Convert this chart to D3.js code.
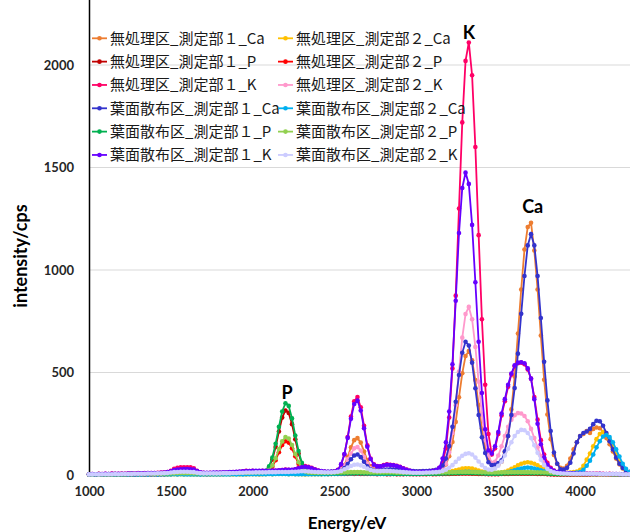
<!DOCTYPE html>
<html><head><meta charset="utf-8">
<script src="https://cdn.jsdelivr.net/npm/d3@7"></script>
<style>html,body{margin:0;padding:0;background:#fff;overflow:hidden}</style>
</head><body>
<svg id="chart" width="630" height="532"></svg>
<script>
// channel energies (eV), 20 eV steps
const energy = d3.range(1000, 4301, 20);

const untreated1_Ca = [2,3,2,4,3,2,3,4,3,2, 3,4,3,2,4,3,5,4,3,4, 4,3,5,4,6,5,7,8,10,9, 10,9,8,7,6,5,6,5,6,7, 6,7,8,7,8,9,8,9,10,9, 10,9,11,10,12,11,13,12,14,15, 16,14,13,12,11,10,11,12,11,12, 13,12,14,13,15,12,17,25,48,88, 135,170,180,158,115,72,42,28,24,22, 24,22,23,21,20,19,18,17,16,16, 16,17,18,18,19,20,22,26,30,51, 92,161,259,379,496,580,605,560,463,342, 227,137,78,55,45,50,65,110,190,320, 480,690,905,1100,1210,1230,1095,905,680,465, 295,175,98,55,35,32,45,80,125,160, 190,200,215,205,225,232,228,210,180,150, 115,80,52,32,20,14];
const untreated2_Ca = [2,2,3,2,2,3,2,2,3,2, 2,3,2,2,3,2,3,2,2,3, 3,2,3,3,2,3,4,3,4,3, 4,3,3,3,2,3,3,2,3,3, 3,3,4,3,3,4,3,4,3,4, 4,4,3,4,4,5,4,5,5,5, 5,4,5,4,4,4,3,4,4,4, 4,4,5,4,5,5,6,7,8,9, 10,11,12,11,10,9,8,7,6,6, 6,5,6,5,5,5,6,5,6,6, 6,6,7,7,8,8,9,10,11,13, 16,19,23,27,31,33,33,31,27,22, 17,13,10,9,9,10,12,16,22,30, 38,47,55,60,62,60,55,47,38,29, 21,15,11,9,8,9,11,12,14,17, 25,45,75,105,140,175,200,210,200,175, 140,100,65,40,22,12];
const untreated1_P = [3,4,3,5,4,3,4,5,4,3, 4,5,4,3,5,4,6,5,4,5, 5,4,6,5,7,6,8,9,10,9, 10,9,8,7,7,6,6,7,6,7, 7,8,8,9,9,10,10,11,12,12, 13,14,15,14,18,38,76,137,212,280, 315,303,248,174,105,55,25,12,9,8, 8,7,8,7,7,8,7,6,7,7, 8,7,8,7,6,7,6,6,7,6, 6,5,6,6,5,6,5,5,6,5, 5,5,6,5,5,5,6,5,5,6, 6,7,8,8,9,9,9,8,7,6, 6,5,5,5,5,5,6,6,7,7, 7,8,8,8,8,8,7,7,6,6, 5,4,4,4,3,3,3,3,3,3, 3,3,3,4,4,4,4,4,4,3, 3,3,3,3,2,2];
const untreated2_P = [2,3,2,3,3,2,3,2,3,3, 3,3,2,3,3,4,3,3,4,3, 4,3,4,4,5,5,6,7,6,7, 7,6,6,5,5,5,4,5,5,5, 5,6,6,6,7,7,7,8,8,8, 9,9,10,9,10,20,40,72,111,146, 165,158,130,91,55,29,14,9,7,6, 6,5,6,5,5,6,5,5,5,5, 6,5,6,5,5,5,5,5,4,5, 5,4,4,5,4,4,4,5,4,4, 4,4,4,4,5,4,4,5,5,5, 5,6,6,7,7,7,7,6,6,5, 5,5,4,4,4,4,5,5,5,6, 6,6,6,6,6,6,6,5,5,5, 4,4,3,3,3,3,3,3,3,3, 3,3,3,3,3,3,3,3,3,3, 3,2,2,2,2,2];
const untreated1_K = [4,5,4,6,5,6,5,7,6,6, 7,6,8,7,8,9,8,9,10,9, 10,11,12,13,14,20,30,35,37,38, 38,37,33,20,13,11,10,11,10,11, 11,12,12,13,14,15,16,18,20,19, 20,18,19,20,18,19,20,21,22,24, 26,25,24,28,36,42,44,40,35,28, 22,18,16,15,15,18,25,50,100,185, 285,360,380,330,240,145,80,52,44,43, 48,52,50,48,45,40,33,26,20,17, 15,16,16,17,18,20,24,35,60,130, 280,520,875,1300,1720,2020,2110,1950,1600,1170, 760,440,200,100,130,200,290,360,430,490, 530,545,548,540,515,470,380,270,170,100, 60,35,22,15,12,10,9,8,8,7, 7,6,7,6,6,7,6,6,5,6, 5,5,5,4,5,4];
const untreated2_K = [3,4,3,4,4,5,4,5,5,4, 5,5,6,5,6,6,7,6,7,7, 8,8,9,10,12,15,18,20,21,22, 22,21,19,14,10,8,8,8,8,9, 9,9,10,10,11,11,12,12,13,13, 13,14,13,14,14,15,15,15,16,17, 17,17,18,19,21,23,24,23,21,19, 16,15,14,14,14,15,20,27,46,76, 104,130,136,119,88,56,33,24,22,22, 23,25,24,23,21,19,16,14,12,11, 11,11,12,12,13,14,16,20,30,55, 110,205,340,505,670,785,820,760,625,455, 295,170,95,60,65,95,140,190,235,270, 292,302,300,288,262,225,180,135,92,60, 36,22,14,10,8,7,6,6,6,5, 5,5,5,5,4,5,4,4,4,4, 4,4,3,4,3,3];
const foliar1_Ca = [3,2,3,3,4,3,3,4,3,4, 4,3,4,4,3,4,5,4,4,5, 5,4,5,5,6,6,7,8,9,9, 9,8,8,7,7,6,6,6,7,6, 7,7,8,8,8,9,9,10,10,10, 11,11,12,12,12,13,13,14,14,15, 15,15,14,14,14,13,13,14,14,15, 15,15,16,16,17,17,19,21,34,54, 77,95,100,87,65,43,28,22,22,23, 25,27,28,27,26,25,23,22,20,19, 18,18,19,19,20,22,25,30,46,80, 141,235,357,488,596,650,632,548,423,293, 184,107,62,48,50,58,72,116,190,293, 424,592,786,971,1120,1175,1120,971,766,552, 364,215,110,55,28,26,35,60,105,160, 190,205,212,225,248,265,262,240,205,165, 125,85,55,35,22,15];
const foliar2_Ca = [2,2,2,3,2,2,3,2,2,2, 2,3,2,2,3,2,2,3,2,3, 3,2,3,3,3,3,4,3,4,3, 3,3,3,3,2,3,3,3,3,3, 3,3,3,3,4,3,4,3,4,4, 4,4,4,4,4,5,4,5,5,5, 5,4,5,4,4,4,4,4,4,4, 4,4,4,4,5,5,5,6,6,7, 7,8,8,8,7,7,6,6,5,5, 5,5,5,5,5,5,5,5,5,5, 5,5,6,6,6,6,7,7,8,9, 10,11,13,14,15,16,16,15,14,12, 10,8,7,7,7,8,9,11,14,18, 23,28,32,35,36,35,32,28,23,18, 13,10,8,7,7,7,8,9,10,12, 15,25,45,70,100,135,165,188,195,185, 160,125,90,55,30,15];
const foliar1_P = [3,4,3,5,4,4,5,4,5,4, 5,4,5,6,5,5,6,5,6,6, 6,6,7,7,8,9,10,11,11,12, 11,11,10,9,9,8,8,8,9,9, 9,10,10,11,11,12,12,13,14,14, 15,15,16,17,20,42,85,152,235,310, 350,337,276,193,117,60,28,14,10,9, 9,8,8,8,8,8,8,9,9,9, 9,9,9,9,8,8,8,8,7,7, 7,7,7,6,6,6,6,6,6,6, 6,6,6,6,6,6,6,6,7,7, 7,8,9,9,10,10,10,9,9,8, 7,7,6,6,6,6,6,7,7,8, 8,8,9,9,9,8,8,8,7,7, 6,5,5,4,4,4,4,4,4,4, 4,4,4,4,4,4,4,4,4,4, 3,3,3,3,3,3];
const foliar2_P = [3,3,4,3,4,4,3,4,4,4, 4,4,5,4,5,5,5,5,6,5, 6,6,6,7,7,8,8,9,9,9, 9,9,8,8,8,8,8,8,8,8, 8,9,9,9,10,10,10,11,11,11, 12,12,12,13,14,24,46,82,127,164, 185,178,146,102,62,33,17,12,11,11, 11,11,11,11,11,12,12,12,13,13, 14,14,14,14,13,13,12,12,12,12, 12,12,12,12,11,11,11,11,11,11, 11,11,11,11,12,12,12,12,12,13, 13,14,14,15,15,15,15,15,14,14, 13,13,12,12,12,12,13,13,13,14, 14,14,14,14,14,14,13,13,13,12, 12,11,10,9,8,7,6,6,5,5, 5,5,5,5,4,4,4,4,4,4, 4,4,3,3,3,3];
const foliar1_K = [4,5,4,5,5,6,5,6,6,6, 6,6,7,7,7,8,8,8,9,9, 10,10,11,12,14,18,24,27,28,29, 29,28,26,19,13,11,11,11,12,12, 12,13,13,14,15,16,17,18,19,19, 20,20,21,21,20,21,22,22,23,24, 25,25,25,28,33,38,40,37,33,27, 22,19,17,16,16,17,24,53,102,181, 274,346,363,315,228,138,78,50,42,42, 46,50,49,47,44,39,32,25,20,17, 15,15,16,16,17,19,23,35,80,160, 310,540,850,1180,1400,1475,1420,1220,940,650, 400,223,120,105,140,210,300,370,440,495, 535,548,550,545,520,470,370,250,150,85, 50,30,20,14,11,10,9,8,8,7, 7,6,6,6,6,5,6,5,5,5, 5,5,4,4,4,4];
const foliar2_K = [3,3,4,3,4,4,4,4,5,4, 5,5,5,5,6,6,6,6,7,7, 7,8,8,9,10,12,14,15,16,16, 16,15,14,11,9,8,8,8,8,8, 8,9,9,9,10,10,11,11,12,12, 12,13,13,13,13,14,14,14,15,15, 15,15,16,16,17,18,18,17,16,15, 14,14,13,13,13,14,16,20,28,36, 44,50,51,47,40,32,25,21,19,19, 20,20,19,18,17,16,14,13,12,11, 11,11,11,12,12,13,14,16,20,26, 35,48,64,80,94,103,106,100,85,66, 48,34,27,26,32,45,65,95,128,160, 190,210,220,218,205,180,145,108,75,48, 30,19,13,10,8,7,7,6,6,6, 6,6,6,6,6,6,5,5,5,5, 5,5,5,4,4,4];

const seriesNames = [
  "無処理区_測定部１_Ca", "無処理区_測定部２_Ca",
  "無処理区_測定部１_P",  "無処理区_測定部２_P",
  "無処理区_測定部１_K",  "無処理区_測定部２_K",
  "葉面散布区_測定部１_Ca", "葉面散布区_測定部２_Ca",
  "葉面散布区_測定部１_P",  "葉面散布区_測定部２_P",
  "葉面散布区_測定部１_K",  "葉面散布区_測定部２_K"
];
const seriesValues = [untreated1_Ca, untreated2_Ca, untreated1_P, untreated2_P, untreated1_K, untreated2_K,
  foliar1_Ca, foliar2_Ca, foliar1_P, foliar2_P, foliar1_K, foliar2_K];
const seriesColors = ["#ED7D31","#FFC000","#C00000","#FF0000","#FF0066","#FF99CC",
  "#3333CC","#00B0F0","#00B050","#92D050","#6600FF","#CCCCFF"];

const xTicks = [1000,1500,2000,2500,3000,3500,4000];
const yTicks = [0,500,1000,1500,2000];
const peakLabels = ["P","K","Ca"];
const peakLabelEnergy = [2210, 3320, 3710];
const peakLabelValue = [400, 2160, 1310];

const svg = d3.select("#chart");
const x = d3.scaleLinear().domain([1000,4500]).range([89,662]);
const y = d3.scaleLinear().domain([0,2500]).range([475,-37.5]);

// gridlines
svg.append("g").selectAll("line").data(yTicks.filter(d=>d>0)).join("line")
  .attr("x1",89).attr("x2",662).attr("y1",d=>y(d)).attr("y2",d=>y(d))
  .attr("stroke","#d9d9d9").attr("stroke-width",1);

// x axis
const gx = svg.append("g").attr("transform","translate(0,475)")
  .call(d3.axisBottom(x).tickValues(xTicks).tickSize(0).tickPadding(12).tickFormat(d3.format("d")));
gx.select(".domain").attr("stroke","#bfbfbf");
gx.selectAll("text").attr("font-family","Lato, 'Open Sans', sans-serif").attr("font-weight","bold")
  .attr("font-size",13).attr("fill","#262626");

// y axis
const gy = svg.append("g").attr("transform","translate(89,0)")
  .call(d3.axisLeft(y).tickValues(yTicks).tickSize(0).tickPadding(15).tickFormat(d3.format("d")));
gy.select(".domain").attr("stroke","#000").attr("stroke-width",1.5);
gy.selectAll("text").attr("font-family","Lato, 'Open Sans', sans-serif").attr("font-weight","bold")
  .attr("font-size",13).attr("fill","#262626");

// series
const line = d3.line().x((d,i)=>x(energy[i])).y(d=>y(d));
seriesValues.forEach((vals,k)=>{
  const g = svg.append("g");
  g.append("path").datum(vals).attr("d",line).attr("fill","none")
    .attr("stroke",seriesColors[k]).attr("stroke-width",1.8);
  g.selectAll("circle").data(vals).join("circle")
    .attr("cx",(d,i)=>x(energy[i])).attr("cy",d=>y(d)).attr("r",2.3)
    .attr("fill",seriesColors[k]);
});

// peak labels
svg.append("g").selectAll("text").data(peakLabels).join("text")
  .attr("x",(d,i)=>x(peakLabelEnergy[i])).attr("y",(d,i)=>y(peakLabelValue[i]))
  .attr("dy","0.35em").attr("text-anchor","middle")
  .attr("font-family","Lato, 'Open Sans', sans-serif").attr("font-weight","bold")
  .attr("font-size",18).attr("fill","#000").text(d=>d);

// axis titles
svg.append("text").attr("transform","translate(21,256) rotate(-90)")
  .attr("text-anchor","middle").attr("dy","0.35em")
  .attr("font-family","Lato, 'Open Sans', sans-serif").attr("font-weight","bold")
  .attr("font-size",18).attr("fill","#000").text("intensity/cps");
svg.append("text").attr("x",347).attr("y",523).attr("dy","0.35em")
  .attr("text-anchor","middle")
  .attr("font-family","Lato, 'Open Sans', sans-serif").attr("font-weight","bold")
  .attr("font-size",17).attr("fill","#000").text("Energy/eV");

// legend
const leg = svg.append("g");
seriesNames.forEach((name,k)=>{
  const col = k%2, row = Math.floor(k/2);
  const lx = col===0 ? 92 : 278;
  const ly = 38.3 + row*23.33;
  leg.append("line").attr("x1",lx).attr("x2",lx+15).attr("y1",ly).attr("y2",ly)
    .attr("stroke",seriesColors[k]).attr("stroke-width",1.8);
  leg.append("circle").attr("cx",lx+7.5).attr("cy",ly).attr("r",2.3).attr("fill",seriesColors[k]);
  leg.append("text").attr("x",lx+18).attr("y",ly).attr("dy","0.35em")
    .attr("font-family","'Noto Sans CJK JP', sans-serif").attr("font-size",15)
    .attr("fill","#1a1a1a").text(name);
});
</script>
</body></html>
